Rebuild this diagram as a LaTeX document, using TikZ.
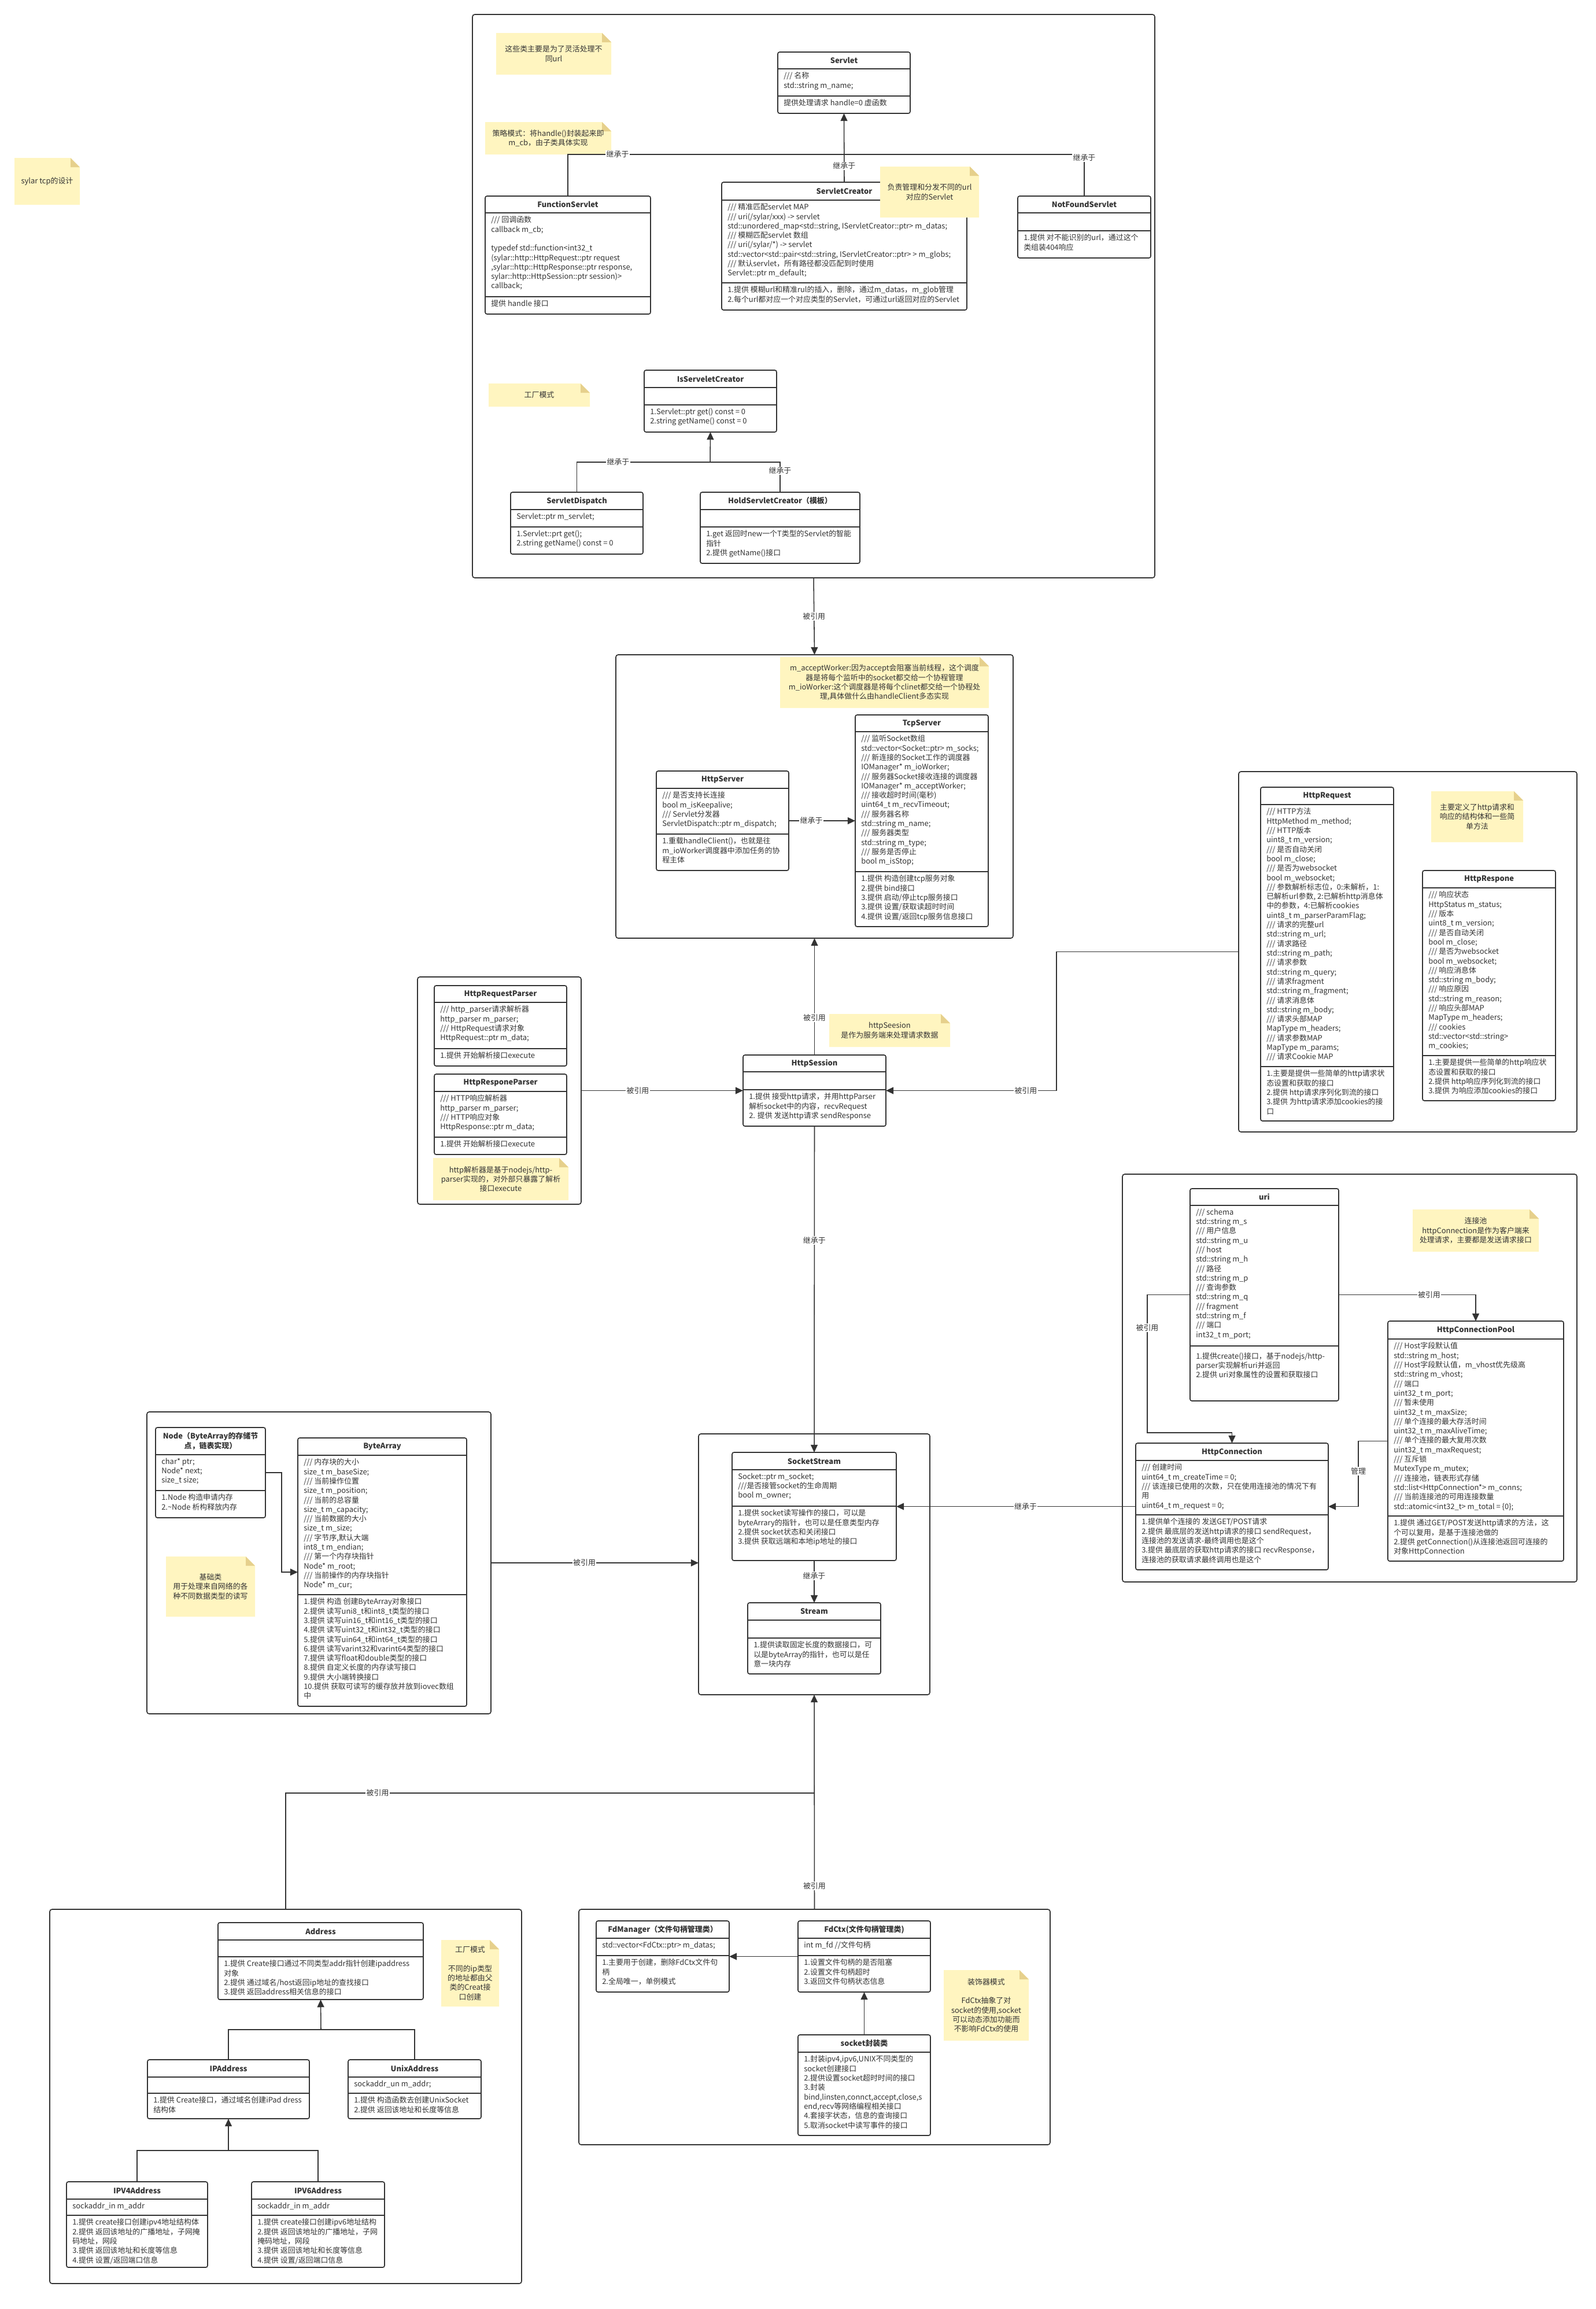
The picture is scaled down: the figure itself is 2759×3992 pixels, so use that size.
\documentclass[tikz,border=0pt]{standalone}
\usepackage{fontspec}
\setmainfont{Noto Sans CJK SC}
\usetikzlibrary{arrows.meta, calc, positioning}

\definecolor{ink}{HTML}{333333}
\definecolor{notefill}{HTML}{FFF5C0}
\definecolor{notefold}{HTML}{E6D08C}

% container frame: name, x1, y1, x2, y2
\newcommand\groupbox[5]{%
  \node[grp, minimum width={(#4-#2)*0.25mm}, minimum height={(#5-#3)*0.25mm}] (#1) at ({(#2+#4)/2}, {(#3+#5)/2}) {};}
% class: name, x1, y1, x2, y2, attribute line, method line, title, attributes
\newcommand\umlclass[9]{%
  \node[clsbox, minimum width={(#4-#2)*0.25mm}, minimum height={(#5-#3)*0.25mm}] (#1) at ({(#2+#4)/2}, {(#3+#5)/2}) {};
  \draw[clsline] (#2, #6) -- (#4, #6);
  \draw[clsline] (#2, #7) -- (#4, #7);
  \node[clstitle] at ({(#2+#4)/2}, {(#3+#6)/2}) {#8};
  \node[clstext] at (#2, #6) {#9};
  \coordinate (#1-m) at (#2, #7);}
\newcommand\umlmethods[2]{\node[clstext] at (#1-m) {#2};}
% sticky note: name, x1, y1, x2, y2, text
\newcommand\stickynote[6]{%
  \fill[notefill] (#2, #3) -- ({#4-16}, #3) -- (#4, {#3+16}) -- (#4, #5) -- (#2, #5) -- cycle;
  \fill[notefold] ({#4-16}, #3) -- (#4, {#3+16}) -- ({#4-16}, {#3+16}) -- cycle;
  \node[notetext] (#1) at ({(#2+#4)/2}, {(#3+#5)/2}) {#6};}

\begin{document}
\begin{tikzpicture}[
    x=0.25mm, y=-0.25mm,
    >={Triangle[length=3.3mm, width=3mm]},
    font=\fontsize{9.2}{11.6}\selectfont,
    every node/.style={text=ink},
    grp/.style={draw=ink, line width=1.2pt, rounded corners=1mm, inner sep=0pt, outer sep=0pt},
    clsbox/.style={draw=ink, fill=white, line width=1.2pt, rounded corners=0.8mm, inner sep=0pt, outer sep=0pt},
    clsline/.style={ink, line width=1.2pt},
    clstitle/.style={font=\fontsize{9.2}{11.6}\selectfont\bfseries, align=center, inner sep=0pt},
    clstext/.style={anchor=north west, align=left, inner sep=0pt, xshift=2.5mm, yshift=-1.4mm},
    link/.style={ink, line width=1.1pt},
    lbl/.style={fill=white, inner sep=1pt},
    notetext/.style={align=center, inner sep=0pt}
  ]
  \useasboundingbox (0, 0) rectangle (2759, 3992);

  % Containers
  \groupbox{grpA}{817}{25}{1997}{999}
  \groupbox{grpB}{1065}{1132}{1752}{1622}
  \groupbox{grpC}{722}{1689}{1005}{2082}
  \groupbox{grpD}{2142}{1334}{2727}{1957}
  \groupbox{grpE}{1941}{2030}{2727}{2735}
  \groupbox{grpF}{1208}{2479}{1608}{2930}
  \groupbox{grpG}{254}{2441}{849}{2963}
  \groupbox{grpH}{86}{3301}{902}{3948}
  \groupbox{grpI}{1001}{3301}{1816}{3708}

  % Servlet classes
  \umlclass{servlet}{1345}{90}{1574}{196}{119}{166}{Servlet}{/// 名称\\std::string m\_name;}
  \umlmethods{servlet}{提供处理请求 handle=0 虚函数}
  \umlclass{fservlet}{839}{339}{1125}{543}{368}{513}{FunctionServlet}{/// 回调函数\\callback m\_cb;\\~\\typedef std::function<int32\_t\\(sylar::http::HttpRequest::ptr request\\,sylar::http::HttpResponse::ptr response,\\sylar::http::HttpSession::ptr session)>\\callback;}
  \umlmethods{fservlet}{提供 handle 接口}
  \umlclass{creator}{1248}{315}{1672}{536}{346}{489}{ServletCreator}{/// 精准匹配servlet MAP\\/// uri(/sylar/xxx) -> servlet\\std::unordered\_map<std::string, IServletCreator::ptr> m\_datas;\\/// 模糊匹配servlet 数组\\/// uri(/sylar/*) -> servlet\\std::vector<std::pair<std::string, IServletCreator::ptr> > m\_globs;\\/// 默认servlet，所有路径都没匹配到时使用\\Servlet::ptr m\_default;}
  \umlmethods{creator}{1.提供 模糊url和精准rul的插入，删除，通过m\_datas，m\_glob管理\\2.每个url都对应一个对应类型的Servlet，可通过url返回对应的Servlet}
  \umlclass{notfound}{1760}{339}{1990}{446}{368}{399}{NotFoundServlet}{}
  \umlmethods{notfound}{1.提供 对不能识别的url，通过这个\\类组装404响应}
  \umlclass{iscreator}{1114}{640}{1343}{747}{670}{700}{IsServeletCreator}{}
  \umlmethods{iscreator}{1.Servlet::ptr get() const = 0\\2.string getName() const = 0}
  \umlclass{dispatch}{883}{851}{1112}{958}{881}{911}{ServletDispatch}{Servlet::ptr m\_servlet;}
  \umlmethods{dispatch}{1.Servlet::prt get();\\2.string getName() const = 0}
  \umlclass{hold}{1211}{851}{1487}{974}{881}{911}{HoldServletCreator（模板）}{}
  \umlmethods{hold}{1.get 返回时new一个T类型的Servlet的智能\\指针\\2.提供 getName()接口}

  % Server classes
  \umlclass{tcpserver}{1479}{1236}{1709}{1602}{1265}{1507}{TcpServer}{/// 监听Socket数组\\std::vector<Socket::ptr> m\_socks;\\/// 新连接的Socket工作的调度器\\IOManager* m\_ioWorker;\\/// 服务器Socket接收连接的调度器\\IOManager* m\_acceptWorker;\\/// 接收超时时间(毫秒)\\uint64\_t m\_recvTimeout;\\/// 服务器名称\\std::string m\_name;\\/// 服务器类型\\std::string m\_type;\\/// 服务是否停止\\bool m\_isStop;}
  \umlmethods{tcpserver}{1.提供 构造创建tcp服务对象\\2.提供 bind接口\\3.提供 启动/停止tcp服务接口\\3.提供 设置/获取读超时时间\\4.提供 设置/返回tcp服务信息接口}
  \umlclass{httpserver}{1135}{1333}{1364}{1505}{1363}{1442}{HttpServer}{/// 是否支持长连接\\bool m\_isKeepalive;\\/// Servlet分发器\\ServletDispatch::ptr m\_dispatch;}
  \umlmethods{httpserver}{1.重载handleClient()，也就是往\\m\_ioWorker调度器中添加任务的协\\程主体}
  \umlclass{session}{1285}{1824}{1532}{1947}{1853}{1884}{HttpSession}{}
  \umlmethods{session}{1.提供 接受http请求，并用httpParser\\解析socket中的内容，recvRequest\\2. 提供 发送http请求 sendResponse}

  % Parser classes
  \umlclass{reqparser}{751}{1704}{980}{1843}{1733}{1813}{HttpRequestParser}{/// http\_parser请求解析器\\http\_parser m\_parser;\\/// HttpRequest请求对象\\HttpRequest::ptr m\_data;}
  \umlmethods{reqparser}{1.提供 开始解析接口execute}
  \umlclass{rspparser}{751}{1857}{980}{1996}{1887}{1966}{HttpResponeParser}{/// HTTP响应解析器\\http\_parser m\_parser;\\/// HTTP响应对象\\HttpResponse::ptr m\_data;}
  \umlmethods{rspparser}{1.提供 开始解析接口execute}

  % Request / response
  \umlclass{httpreq}{2180}{1361}{2410}{1938}{1391}{1844}{HttpRequest}{/// HTTP方法\\HttpMethod m\_method;\\/// HTTP版本\\uint8\_t m\_version;\\/// 是否自动关闭\\bool m\_close;\\/// 是否为websocket\\bool m\_websocket;\\/// 参数解析标志位，0:未解析，1:\\已解析url参数, 2:已解析http消息体\\中的参数，4:已解析cookies\\uint8\_t m\_parserParamFlag;\\/// 请求的完整url\\std::string m\_url;\\/// 请求路径\\std::string m\_path;\\/// 请求参数\\std::string m\_query;\\/// 请求fragment\\std::string m\_fragment;\\/// 请求消息体\\std::string m\_body;\\/// 请求头部MAP\\MapType m\_headers;\\/// 请求参数MAP\\MapType m\_params;\\/// 请求Cookie MAP}
  \umlmethods{httpreq}{1.主要是提供一些简单的http请求状\\态设置和获取的接口\\2.提供 http请求序列化到流的接口\\3.提供 为http请求添加cookies的接\\口}
  \umlclass{httprsp}{2460}{1505}{2690}{1903}{1535}{1825}{HttpRespone}{/// 响应状态\\HttpStatus m\_status;\\/// 版本\\uint8\_t m\_version;\\/// 是否自动关闭\\bool m\_close;\\/// 是否为websocket\\bool m\_websocket;\\/// 响应消息体\\std::string m\_body;\\/// 响应原因\\std::string m\_reason;\\/// 响应头部MAP\\MapType m\_headers;\\/// cookies\\std::vector<std::string>\\m\_cookies;}
  \umlmethods{httprsp}{1.主要是提供一些简单的http响应状\\态设置和获取的接口\\2.提供 http响应序列化到流的接口\\3.提供 为响应添加cookies的接口}

  % Connection classes
  \umlclass{uri}{2058}{2055}{2315}{2422}{2084}{2327}{uri}{/// schema\\std::string m\_s\\/// 用户信息\\std::string m\_u\\/// host\\std::string m\_h\\/// 路径\\std::string m\_p\\/// 查询参数\\std::string m\_q\\/// fragment\\std::string m\_f\\/// 端口\\int32\_t m\_port;}
  \umlmethods{uri}{~\\1.提供create()接口，基于nodejs/http-\\parser实现解析uri并返回\\2.提供 uri对象属性的设置和获取接口}
  \umlclass{pool}{2400}{2284}{2704}{2699}{2315}{2621}{HttpConnectionPool}{/// Host字段默认值\\std::string m\_host;\\/// Host字段默认值，m\_vhost优先级高\\std::string m\_vhost;\\/// 端口\\uint32\_t m\_port;\\/// 暂未使用\\uint32\_t m\_maxSize;\\/// 单个连接的最大存活时间\\uint32\_t m\_maxAliveTime;\\/// 单个连接的最大复用次数\\uint32\_t m\_maxRequest;\\/// 互斥锁\\MutexType m\_mutex;\\/// 连接池，链表形式存储\\std::list<HttpConnection*> m\_conns;\\/// 当前连接池的可用连接数量\\std::atomic<int32\_t> m\_total = \{0\};}
  \umlmethods{pool}{1.提供 通过GET/POST发送http请求的方法，这\\个可以复用，是基于连接池做的\\2.提供 getConnection()从连接池返回可连接的\\对象HttpConnection}
  \umlclass{httpconn}{1964}{2495}{2297}{2714}{2525}{2619}{HttpConnection}{/// 创建时间\\uint64\_t m\_createTime = 0;\\/// 该连接已使用的次数，只在使用连接池的情况下有\\用\\uint64\_t m\_request = 0;}
  \umlmethods{httpconn}{1.提供单个连接的 发送GET/POST请求\\2.提供 最底层的发送http请求的接口 sendRequest，\\连接池的发送请求-最终调用也是这个\\3.提供 最底层的获取http请求的接口 recvResponse，\\连接池的获取请求最终调用也是这个}

  % Stream classes
  \umlclass{sockstream}{1266}{2511}{1550}{2698}{2541}{2604}{SocketStream}{Socket::ptr m\_socket;\\///是否接管socket的生命周期\\bool m\_owner;}
  \umlmethods{sockstream}{1.提供 socket读写操作的接口，可以是\\byteArrary的指针，也可以是任意类型内存\\2.提供 socket状态和关闭接口\\3.提供 获取远端和本地ip地址的接口}
  \umlclass{stream}{1293}{2771}{1523}{2894}{2801}{2832}{Stream}{}
  \umlmethods{stream}{1.提供读取固定长度的数据接口，可\\以是byteArray的指针，也可以是任\\意一块内存}

  % ByteArray classes
  \umlclass{nodecls}{269}{2468}{459}{2624}{2515}{2577}{Node（ByteArray的存储节\\点，链表实现）}{char* ptr;\\Node* next;\\size\_t size;}
  \umlmethods{nodecls}{1.Node 构造申请内存\\2.\textasciitilde Node 析构释放内存}
  \umlclass{bytearray}{515}{2486}{807}{2950}{2516}{2757}{ByteArray}{/// 内存块的大小\\size\_t m\_baseSize;\\/// 当前操作位置\\size\_t m\_position;\\/// 当前的总容量\\size\_t m\_capacity;\\/// 当前数据的大小\\size\_t m\_size;\\/// 字节序,默认大端\\int8\_t m\_endian;\\/// 第一个内存块指针\\Node* m\_root;\\/// 当前操作的内存块指针\\Node* m\_cur;}
  \umlmethods{bytearray}{1.提供 构造 创建ByteArray对象接口\\2.提供 读写uni8\_t和int8\_t类型的接口\\3.提供 读写uin16\_t和int16\_t类型的接口\\4.提供 读写uint32\_t和int32\_t类型的接口\\5.提供 读写uin64\_t和int64\_t类型的接口\\6.提供 读写varint32和varint64类型的接口\\7.提供 读写float和double类型的接口\\8.提供 自定义长度的内存读写接口\\9.提供 大小端转换接口\\10.提供 获取可读写的缓存放并放到iovec数组\\中}

  % Address classes
  \umlclass{address}{377}{3324}{732}{3457}{3354}{3383}{Address}{}
  \umlmethods{address}{1.提供 Create接口通过不同类型addr指针创建ipaddress\\对象\\2.提供 通过域名/host返回ip地址的查找接口\\3.提供 返回address相关信息的接口}
  \umlclass{ipaddr}{255}{3561}{535}{3663}{3591}{3619}{IPAddress}{}
  \umlmethods{ipaddr}{1.提供 Create接口，通过域名创建iPad dress\\结构体}
  \umlclass{unixaddr}{602}{3561}{832}{3663}{3591}{3619}{UnixAddress}{sockaddr\_un m\_addr;}
  \umlmethods{unixaddr}{1.提供 构造函数去创建UnixSocket\\2.提供 返回该地址和长度等信息}
  \umlclass{ipv4}{115}{3772}{359}{3920}{3802}{3830}{IPV4Address}{sockaddr\_in m\_addr}
  \umlmethods{ipv4}{1.提供 create接口创建ipv4地址结构体\\2.提供 返回该地址的广播地址，子网掩\\码地址，网段\\3.提供 返回该地址和长度等信息\\4.提供 设置/返回端口信息}
  \umlclass{ipv6}{435}{3772}{665}{3920}{3802}{3830}{IPV6Address}{sockaddr\_in m\_addr}
  \umlmethods{ipv6}{1.提供 create接口创建ipv6地址结构\\2.提供 返回该地址的广播地址，子网\\掩码地址，网段\\3.提供 返回该地址和长度等信息\\4.提供 设置/返回端口信息}

  % Fd classes
  \umlclass{fdmgr}{1031}{3321}{1261}{3444}{3351}{3381}{FdManager（文件句柄管理类）}{std::vector<FdCtx::ptr> m\_datas;}
  \umlmethods{fdmgr}{1.主要用于创建，删除FdCtx文件句\\柄\\2.全局唯一，单例模式}
  \umlclass{fdctx}{1380}{3321}{1609}{3444}{3351}{3381}{FdCtx(文件句柄管理类)}{int m\_fd //文件句柄}
  \umlmethods{fdctx}{1.设置文件句柄的是否阻塞\\2.设置文件句柄超时\\3.返回文件句柄状态信息}
  \umlclass{sockwrap}{1380}{3518}{1609}{3692}{3548}{3548}{socket封装类}{}
  \umlmethods{sockwrap}{1.封装ipv4,ipv6,UNIX不同类型的\\socket创建接口\\2.提供设置socket超时时间的接口\\3.封装\\bind,linsten,connct,accept,close,s\\end,recv等网络编程相关接口\\4.套接字状态，信息的查询接口\\5.取消socket中读写事件的接口}

  % Notes
  \stickynote{design}{25}{273}{138}{354}{sylar tcp的设计}
  \stickynote{urlnote}{858}{57}{1057}{129}{这些类主要是为了灵活处理不\\同url}
  \stickynote{strategy}{839}{211}{1057}{267}{策略模式：将handle()封装起来即\\m\_cb，由子类具体实现}
  \stickynote{dispatchnote}{1522}{288}{1693}{376}{负责管理和分发不同的url\\对应的Servlet}
  \stickynote{factory}{845}{663}{1020}{703}{工厂模式}
  \stickynote{workernote}{1349}{1136}{1710}{1224}{m\_acceptWorker:因为accept会阻塞当前线程，这个调度\\器是将每个监听中的socket都交给一个协程管理\\m\_ioWorker:这个调度器是将每个clinet都交给一个协程处\\理,具体做什么由handleClient多态实现}
  \stickynote{sessionnote}{1434}{1753}{1643}{1810}{httpSeesion\\是作为服务端来处理请求数据}
  \stickynote{parsernote}{749}{2002}{983}{2075}{http解析器是基于nodejs/http-\\parser实现的，对外部只暴露了解析\\接口execute}
  \stickynote{httpnote}{2475}{1368}{2634}{1456}{主要定义了http请求和\\响应的结构体和一些简\\单方法}
  \stickynote{poolnote}{2443}{2091}{2661}{2164}{连接池\\httpConnection是作为客户端来\\处理请求，主要都是发送请求接口}
  \stickynote{basenote}{287}{2691}{441}{2795}{基础类\\用于处理来自网络的各\\种不同数据类型的读写}
  \stickynote{addrnote}{763}{3354}{863}{3469}{工厂模式\\~\\不同的ip类型\\的地址都由父\\类的Creat接\\口创建}
  \stickynote{decornote}{1632}{3406}{1779}{3528}{装饰器模式\\~\\FdCtx抽象了对\\socket的使用,socket\\可以动态添加功能而\\不影响FdCtx的使用}

  % Inheritance inside the servlet group
  \coordinate (sj) at (1460, 267);
  \coordinate (fj) at (1228, 799);
  \draw[link, ->] (creator.north) to node[lbl, pos=0.235] {继承于} (servlet.south);
  \draw[link] (fservlet.north) |- node[lbl, pos=0.59] {继承于} (sj);
  \draw[link] (sj) -| node[lbl, pos=0.54] {继承于} (notfound.north);
  \draw[link, ->] (fj) to (iscreator.south);
  \draw[link] (dispatch.north) |- node[lbl, pos=0.655] {继承于} (fj);
  \draw[link] (fj) -| node[lbl, pos=0.644] {继承于} (hold.north);

  % Server links
  \draw[link, ->] (grpA.south) to node[lbl] {被引用} (grpB.north);
  \draw[link, ->] (httpserver.east) to node[lbl, pos=0.34] {继承于} (tcpserver.west);
  \draw[link, ->] (session.north) to node[lbl, pos=0.32] {被引用} (grpB.south);
  \draw[link, ->] (grpC.east) to node[lbl, pos=0.35] {被引用} (session.west);
  \draw[link, ->] (grpD.west) -- ++(-315, 0) |- node[lbl, pos=0.59] {被引用} (session.east);
  \draw[link, ->] (session.south) to node[lbl, pos=0.35] {继承于} (sockstream.north);

  % Connection links
  \draw[link, ->] (uri.east) -| node[lbl, pos=0.33] {被引用} (pool.north);
  \draw[link, ->] (uri.west) -- ++(-74, 0) |- node[lbl, pos=0.12] {被引用} ($(httpconn.north)+(0, -18)$) -- (httpconn.north);
  \draw[link, ->] (pool.west) -- ++(-51, 0) |- node[lbl, pos=0.23] {管理} (httpconn.east);
  \draw[link, ->] (httpconn.west) to node[lbl, pos=0.46] {继承于} (sockstream.east);

  % Stream links
  \draw[link, ->] (sockstream.south) to node[lbl, pos=0.36] {继承于} (stream.north);
  \draw[link, ->] (nodecls.east) -- ++(28, 0) |- (bytearray.west);
  \draw[link, ->] (grpG.east) to node[lbl, pos=0.45] {被引用} (grpG.east -| grpF.west);

  % Address and fd links
  \coordinate (aj) at (555, 3509);
  \coordinate (ij) at (395, 3718);
  \coordinate (bj) at (1408, 3100);
  \draw[link, ->] (aj) to (address.south);
  \draw[link] (ipaddr.north) |- (aj) -| (unixaddr.north);
  \draw[link, ->] (ij) to (ipaddr.south);
  \draw[link] (ipv4.north) |- (ij) -| (ipv6.north);
  \draw[link, ->] (fdctx.west) to (fdmgr.east);
  \draw[link, ->] (sockwrap.north) to (fdctx.south);
  \draw[link] (grpH.north) |- node[lbl, pos=0.587] {被引用} (bj);
  \draw[link, ->] (grpI.north) to node[lbl, pos=0.11] {被引用} (grpF.south);
\end{tikzpicture}
\end{document}
